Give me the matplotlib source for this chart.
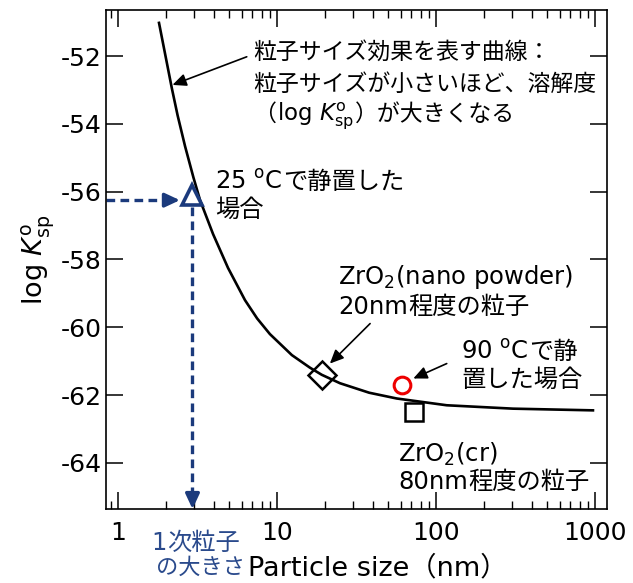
import matplotlib
matplotlib.use('Agg')
import matplotlib.pyplot as plt

plt.rcParams['font.family'] = ['DejaVu Sans', 'Noto Sans CJK JP']
plt.rcParams['axes.unicode_minus'] = False
plt.rcParams['mathtext.fontset'] = 'dejavusans'

# ---- data ----
curve_size = [1.81, 2.18, 2.37, 2.64, 2.98, 3.28, 3.96, 4.92, 6.29, 7.5, 9.02,
              12.4, 16.1, 19.1, 24.9, 38.0, 56.6, 116.8, 305, 971]
curve_logk = [-51.02, -52.95, -53.75, -54.66, -55.58, -56.25, -57.25, -58.25,
              -59.20, -59.74, -60.20, -60.82, -61.19, -61.40, -61.65, -61.93,
              -62.10, -62.30, -62.40, -62.45]

tri_size, tri_logk = [2.94], [-56.1]        # 25 C
dia_size, dia_logk = [19.1], [-61.41]       # nano powder
sq_size, sq_logk = [73.0], [-62.51]         # ZrO2(cr)
circ_size, circ_logk = [60.8], [-61.69]     # 90 C

xticks = [1, 10, 100, 1000]
xticklabels = ['1', '10', '100', '1000']
yticks = [-64, -62, -60, -58, -56, -54, -52]
yticklabels = ['-64', '-62', '-60', '-58', '-56', '-54', '-52']
xlim = (0.84, 1190)
ylim = (-65.36, -50.64)

navy = '#1b3a7c'
navy_text = '#2a4a8c'
LAT = ['DejaVu Sans', 'Noto Sans CJK JP']
CJK = ['Noto Sans CJK JP', 'DejaVu Sans']

W, H = 633, 583
fig = plt.figure(figsize=(W / 100, H / 100), dpi=100)
ax = fig.add_axes([106 / W, 1 - 509 / H, 501 / W, 499 / H])
ax.set_xscale('log')
ax.set_xlim(*xlim)
ax.set_ylim(*ylim)

# curve
ax.plot(curve_size, curve_logk, color='black', lw=1.9, zorder=3,
        solid_joinstyle='round')

# markers
ax.plot(tri_size, tri_logk, marker='^', ms=14, mfc='none', mec=navy, mew=2.6,
        ls='none', zorder=4)
ax.plot(dia_size, dia_logk, marker='D', ms=14, mfc='none', mec='black', mew=1.8,
        ls='none', zorder=4)
ax.plot(sq_size, sq_logk, marker='s', ms=12.5, mfc='none', mec='black', mew=1.8,
        ls='none', zorder=4)
ax.plot(circ_size, circ_logk, marker='o', ms=12, mfc='none', mec='#ee0000', mew=2.2,
        ls='none', zorder=4)

# dashed navy guide arrows
dash = (0, (2.6, 1.6))
h_y = -56.25
ax.plot([xlim[0], 2.3], [h_y, h_y], color=navy, lw=2.4, ls=dash, zorder=2)
ax.annotate('', xy=(2.45, h_y), xytext=(-10, 0), textcoords='offset points',
            arrowprops=dict(arrowstyle='-|>,head_length=0.6,head_width=0.28',
                            mutation_scale=15, color=navy, lw=2.4, shrinkA=0, shrinkB=0))
ax.plot([tri_size[0], tri_size[0]], [-56.45, -64.9], color=navy, lw=2.4, ls=dash, zorder=2)
ax.annotate('', xy=(tri_size[0], ylim[0]), xytext=(0, 10), textcoords='offset points',
            arrowprops=dict(arrowstyle='-|>,head_length=0.6,head_width=0.28',
                            mutation_scale=15, color=navy, lw=2.4, shrinkA=0, shrinkB=0))

# black annotation arrows
aprops = dict(arrowstyle='-|>,head_length=0.55,head_width=0.25', mutation_scale=15,
              color='black', lw=1.2, shrinkA=0, shrinkB=0)
ax.annotate('', xy=(2.2, -52.85), xytext=(6.45, -52.02), arrowprops=aprops)
ax.annotate('', xy=(21.5, -61.07), xytext=(38.5, -59.89), arrowprops=aprops)
ax.annotate('', xy=(72.0, -61.51), xytext=(116.8, -61.07), arrowprops=aprops)

# axes styling
for s in ax.spines.values():
    s.set_linewidth(1.2)
ax.set_xticks(xticks)
ax.set_xticklabels(xticklabels)
ax.set_yticks(yticks)
ax.set_yticklabels(yticklabels)
ax.tick_params(which='major', direction='in', length=12, width=1.1,
               top=True, right=True, labelsize=18)
ax.tick_params(which='minor', direction='in', length=6, width=1.0,
               top=True, right=True)
ax.tick_params(axis='x', which='major', pad=9)
ax.tick_params(axis='y', which='major', pad=3)
ax.tick_params(axis='y', which='minor', left=False, right=False)

ax.set_ylabel(r'log $\mathit{K}^{\mathrm{o}}_{\mathrm{sp}}$', fontsize=19.5, labelpad=3)

renderer = fig.canvas.get_renderer()


def line(px, py_center, parts, size, color='black'):
    """Place consecutive text pieces on one baseline (pixel coords, y down)."""
    base = py_center + 0.37 * size * 100 / 72
    x = px
    for s, fam in parts:
        t = fig.text(x / W, 1 - base / H, s, family=fam, fontsize=size,
                     va='baseline', ha='left', color=color)
        bb = t.get_window_extent(renderer)
        x = bb.x1 + 1


line(253, 50, [('粒子サイズ効果を表す曲線：', CJK)], 16.5)
line(253, 82, [('粒子サイズが小さいほど、溶解度', CJK)], 16.5)
line(253, 112, [('（', CJK),
                (r'log $\mathit{K}^{\mathrm{o}}_{\mathrm{sp}}$', LAT),
                ('）が大きくなる', CJK)], 16.5)

line(215, 180, [(r'25 $^{\mathrm{o}}$C', LAT), ('で静置した', CJK)], 17.5)
line(215, 208, [('場合', CJK)], 17.5)

line(338, 275, [(r'ZrO$_2$(nano powder)', LAT)], 17.5)
line(338, 305, [('20nm', LAT), ('程度の粒子', CJK)], 17.5)

line(461, 350, [(r'90 $^{\mathrm{o}}$C', LAT), ('で静', CJK)], 17.5)
line(461, 378, [('置した場合', CJK)], 17.5)

line(398, 453, [(r'ZrO$_2$(cr)', LAT)], 17.5)
line(398, 480, [('80nm', LAT), ('程度の粒子', CJK)], 17.5)

line(151, 541, [('1', LAT), ('次粒子', CJK)], 17.5, color=navy_text)
line(156, 566, [('の大きさ', CJK)], 16, color=navy_text)

fig.text(378 / W, 1 - 568 / H, 'Particle size（nm）', fontsize=19.5,
         ha='center', va='center', family=LAT)

fig.savefig('out.png', dpi=100)
